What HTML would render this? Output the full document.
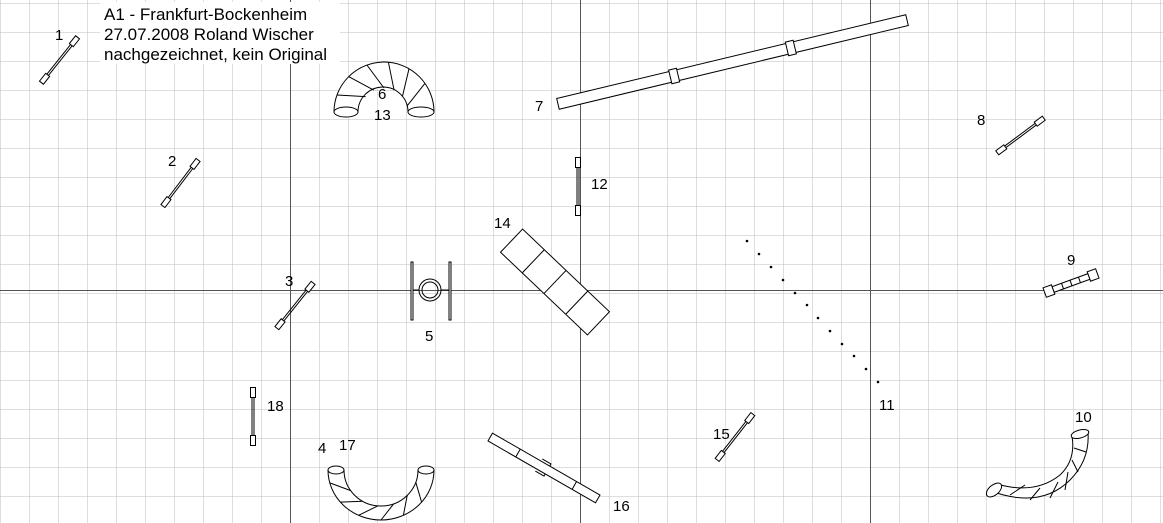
<!DOCTYPE html>
<html><head><meta charset="utf-8"><style>
html,body{margin:0;padding:0;background:#fff;}
svg{display:block;font-family:"Liberation Sans",sans-serif;}
</style></head><body>
<svg width="1163" height="523" viewBox="0 0 1163 523" xmlns="http://www.w3.org/2000/svg">
<defs>
<pattern id="g" x="0" y="3" width="29" height="29" patternUnits="userSpaceOnUse">
<path d="M0 0V29M0 0H29" fill="none" stroke="#bdbdbd" stroke-width="1"/>
</pattern>
<g id="jump" fill="#fff" stroke="#000" stroke-width="1">
<line x1="-19" y1="-1" x2="19" y2="-1"/><line x1="-19" y1="1" x2="19" y2="1"/>
<rect x="-29" y="-2.5" width="10" height="5"/><rect x="19" y="-2.5" width="10" height="5"/>
</g>
</defs>
<rect width="1163" height="523" fill="#fff"/>
<rect x="0" y="0" width="1163" height="523" fill="url(#g)"/>
<g stroke="#555" stroke-width="1">
<line x1="290.5" y1="0" x2="290.5" y2="523"/><line x1="580.5" y1="0" x2="580.5" y2="523"/><line x1="870.5" y1="0" x2="870.5" y2="523"/>
<line x1="0" y1="290.5" x2="1163" y2="290.5"/>
</g>
<rect x="100" y="2" width="240" height="62" fill="#fff"/>
<g font-size="17" fill="#000">
<text x="104" y="20">A1 - Frankfurt-Bockenheim</text>
<text x="104" y="40">27.07.2008 Roland Wischer</text>
<text x="104" y="60">nachgezeichnet, kein Original</text>
</g>
<use href="#jump" transform="translate(59.5,60) rotate(-51.5)"/>
<use href="#jump" transform="translate(180.5,183) rotate(-52.7)"/>
<use href="#jump" transform="translate(295,305.5) rotate(-51.3)"/>
<use href="#jump" transform="translate(1020.5,135.5) rotate(-36.7)"/>
<use href="#jump" transform="translate(735,437) rotate(-52)"/>
<use href="#jump" transform="translate(578,186.5) rotate(90)"/>
<use href="#jump" transform="translate(253,416.5) rotate(90)"/>
<g transform="translate(1071,283) rotate(-20)" fill="#fff" stroke="#000">
<rect x="-28" y="-5" width="9" height="10"/><rect x="19" y="-5" width="9" height="10"/>
<rect x="-19" y="-3" width="38" height="6"/>
<line x1="-9" y1="-3" x2="-9" y2="3"/><line x1="0" y1="-3" x2="0" y2="3"/><line x1="9" y1="-3" x2="9" y2="3"/>
</g>
<g transform="translate(732.5,62) rotate(-13.5)" fill="#fff" stroke="#000">
<rect x="-179.5" y="-5.5" width="359" height="11"/>
<line x1="-60" y1="-5.5" x2="-60" y2="5.5"/><line x1="60" y1="-5.5" x2="60" y2="5.5"/>
<rect x="-64" y="-7" width="8" height="14"/><rect x="56" y="-7" width="8" height="14"/>
</g>
<g transform="translate(544,468) rotate(29.9)" fill="#fff" stroke="#000">
<rect x="-62" y="-4.5" width="124" height="9"/>
<line x1="-30" y1="-4.5" x2="-30" y2="4.5"/><line x1="35" y1="-4.5" x2="35" y2="4.5"/>
<path d="M-6 -7 L4 -7 L4 -4.5 M-6 7 L4 7 L4 4.5" fill="none"/>
</g>
<g transform="translate(555,282) rotate(43.6)" fill="#fff" stroke="#000">
<rect x="-60" y="-16" width="120" height="32"/>
<line x1="-30" y1="-16" x2="-30" y2="16"/><line x1="0" y1="-16" x2="0" y2="16"/><line x1="30" y1="-16" x2="30" y2="16"/>
</g>
<g stroke="#000" fill="none">
<rect x="411" y="262" width="2" height="58" fill="#fff"/><rect x="449" y="262" width="2" height="58" fill="#fff"/>
<line x1="413" y1="290" x2="419" y2="290"/><line x1="441" y1="290" x2="449" y2="290"/>
<circle cx="430" cy="290" r="11"/><circle cx="430" cy="290" r="8"/>
</g>
<g stroke="#000" fill="#fff">
<path d="M334 112 A50 50 0 0 1 434 112 L408 112 A24 24 0 0 0 358 112 Z"/>
<path d="M337 95 L365.6 96.6 M348.6 76.6 L373.9 90.2 M366.9 65 L384 88 M388.4 62.2 L394.1 90.2 M409 68.7 L402.4 96.6 M425 83.3 L407.2 105.8" fill="none"/>
<ellipse cx="346" cy="112" rx="12" ry="5"/><ellipse cx="421" cy="112" rx="13" ry="5"/>
<path d="M328 470 A53 50 0 0 0 434 470 L418 470 A37 36 0 0 1 344 470 Z"/>
<path d="M329.8 482.9 L350.7 490.6 M340.4 502.1 L362.5 501.2 M358.6 515.3 L377.8 505.9 M381 520 L393.7 503.8 M403.4 515.3 L407.2 495.5 M421.6 502.1 L415.8 482.3" fill="none"/>
<ellipse cx="336" cy="470" rx="8" ry="4"/><ellipse cx="426" cy="470" rx="8" ry="4"/>
<path d="M988 490 Q1040 510 1070 480 Q1090 460 1088 432 L1072 436 Q1076 460 1060 475 Q1035 495 997 484 Z"/>
<path d="M1010 495 L1025 485 M1030 500 L1040 488 M1050 498 L1058 482 M1065 490 L1068 472 M1078 472 L1072 460 M1086 452 L1074 448" fill="none"/>
<ellipse cx="1080" cy="434" rx="9" ry="4" transform="rotate(-15 1080 434)"/>
<ellipse cx="994" cy="490" rx="5" ry="9" transform="rotate(50 994 490)"/>
</g>
<g fill="#000">
<circle cx="747" cy="241" r="1.3"/><circle cx="759" cy="254" r="1.3"/><circle cx="771" cy="267" r="1.3"/><circle cx="783" cy="280" r="1.3"/><circle cx="795" cy="293" r="1.3"/><circle cx="807" cy="305" r="1.3"/><circle cx="818" cy="318" r="1.3"/><circle cx="830" cy="331" r="1.3"/><circle cx="842" cy="344" r="1.3"/><circle cx="854" cy="356" r="1.3"/><circle cx="866" cy="369" r="1.3"/><circle cx="878" cy="382" r="1.3"/>
</g>
<g font-size="15" fill="#000">
<text x="55" y="40">1</text>
<text x="168" y="166">2</text>
<text x="285" y="286">3</text>
<text x="318" y="453">4</text><text x="339" y="450">17</text>
<text x="425" y="341">5</text>
<text x="378" y="99">6</text><text x="374" y="120">13</text>
<text x="535" y="111">7</text>
<text x="977" y="125">8</text>
<text x="1067" y="265">9</text>
<text x="1075" y="422">10</text>
<text x="879" y="410">11</text>
<text x="591" y="189">12</text>
<text x="494" y="228">14</text>
<text x="713" y="439">15</text>
<text x="613" y="511">16</text>
<text x="267" y="411">18</text>
</g>
</svg>
</body></html>
